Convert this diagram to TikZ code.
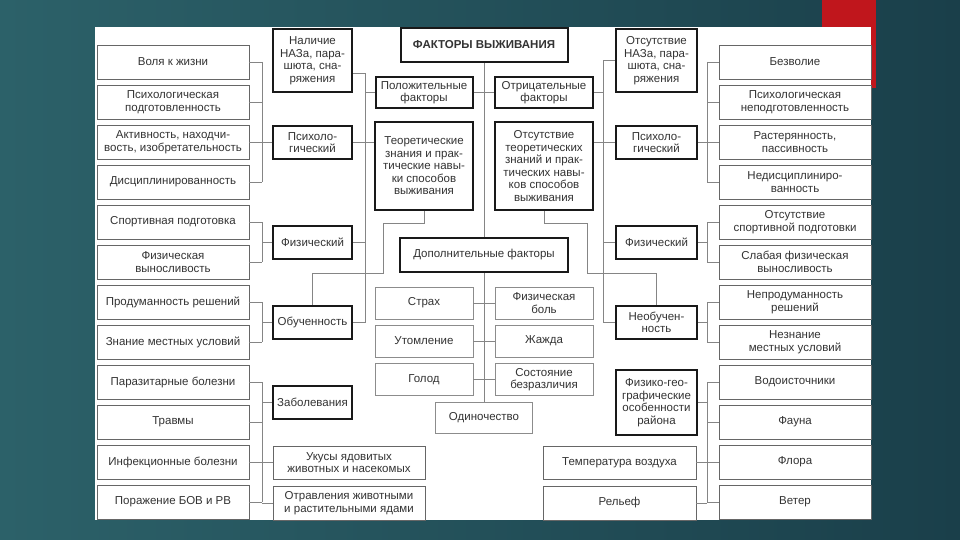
\documentclass[tikz,border=0pt]{standalone}
\usepackage{fontspec}
\setmainfont{Liberation Sans}
\usetikzlibrary{positioning}
\definecolor{bgleft}{HTML}{2C6169}
\definecolor{bgright}{HTML}{1A3F4A}
\definecolor{redbar}{HTML}{C0161C}
\definecolor{wiregray}{HTML}{858585}
\definecolor{ink}{HTML}{333333}

\begin{document}
\begin{tikzpicture}[x=1pt, y=-1pt,
    cell/.style={draw=black!60, line width=0.9pt, fill=white, inner sep=1pt,
      align=center, text=ink, font=\fontsize{11.5}{12.5}\selectfont,
      minimum width=152pt, minimum height=34pt},
    key/.style={cell, draw=black!90, line width=2pt, minimum width=79pt, minimum height=33pt},
    small/.style={cell, draw=black!45, minimum width=98pt, minimum height=32pt},
    wire/.style={draw=wiregray, line width=0.8pt}]
  \useasboundingbox (0,0) rectangle (960,540);
  \shade[left color=bgleft, right color=bgright] (0,0) rectangle (960,540);
  \fill[redbar] (822,0) rectangle (876,88);
  \fill[white] (95,27) rectangle (871,520);

  % outer columns
  \foreach \txt [count=\i] in {Воля к жизни, {Психологическая\\подготовленность},
      {Активность, находчи-\\вость, изобретательность}, Дисциплинированность,
      Спортивная подготовка, {Физическая\\выносливость}, Продуманность решений,
      Знание местных условий, Паразитарные болезни, Травмы, Инфекционные болезни,
      Поражение БОВ и РВ}
    \node[cell] (L\i) at (173,22+40*\i) {\txt};
  \foreach \txt [count=\i] in {Безволие, {Психологическая\\неподготовленность},
      {Растерянность,\\пассивность}, {Недисциплиниро-\\ванность},
      {Отсутствие\\спортивной подготовки}, {Слабая физическая\\выносливость},
      {Непродуманность\\решений}, {Незнание\\местных условий}, Водоисточники,
      Фауна, Флора, Ветер}
    \node[cell] (R\i) at (795,22+40*\i) {\txt};

  % left inner column
  \node[key, minimum height=63pt] (nal) at (312.5,60.5) {Наличие\\НАЗа, пара-\\шюта, сна-\\ряжения};
  \node[key] (psyL) at (312.5,142.5) {Психоло-\\гический};
  \node[key] (fizL) at (312.5,242.5) {Физический};
  \node[key] (obu) at (312.5,322.5) {Обученность};
  \node[key] (zab) at (312.5,402.5) {Заболевания};
  \node[cell, minimum height=33pt] (ukus) at (349,462.5) {Укусы ядовитых\\животных и насекомых};
  \node[cell] (otrav) at (349,503) {Отравления животными\\и растительными ядами};

  % centre
  \node[key, minimum width=167pt, minimum height=34pt] (fv) at (484,45) {\textbf{ФАКТОРЫ ВЫЖИВАНИЯ}};
  \node[key, minimum width=97pt, minimum height=31pt] (pol) at (424,92.5) {Положительные\\факторы};
  \node[key, minimum width=98pt, minimum height=31pt] (otr) at (544,92.5) {Отрицательные\\факторы};
  \node[key, minimum width=98pt, minimum height=88pt] (teor) at (424,166)
    {Теоретические\\знания и прак-\\тические навы-\\ки способов\\выживания};
  \node[key, minimum width=98pt, minimum height=88pt] (oteor) at (544,166)
    {Отсутствие\\теоретических\\знаний и прак-\\тических навы-\\ков способов\\выживания};
  \node[key, minimum width=168pt, minimum height=34pt] (dop) at (484,255) {Дополнительные факторы};
  \foreach \a/\b/\y [count=\i] in {Страх/{Физическая\\боль}/303, Утомление/Жажда/341,
      Голод/{Состояние\\безразличия}/379.5} {
    \node[small] (dl\i) at (424,\y) {\a};
    \node[small] (dr\i) at (544,\y) {\b};
    \draw[wire] (dl\i) -- (dr\i);
  }
  \node[small, minimum width=97pt, minimum height=31pt] (odin) at (484,417.5) {Одиночество};

  % right inner column
  \node[key, minimum width=81pt, minimum height=63pt] (otsnaz) at (656.5,60.5) {Отсутствие\\НАЗа, пара-\\шюта, сна-\\ряжения};
  \node[key, minimum width=81pt] (psyR) at (656.5,142.5) {Психоло-\\гический};
  \node[key, minimum width=81pt] (fizR) at (656.5,242.5) {Физический};
  \node[key, minimum width=81pt] (neobu) at (656.5,322.5) {Необучен-\\ность};
  \node[key, minimum width=81pt, minimum height=65pt] (fgeo) at (656.5,402.5)
    {Физико-гео-\\графические\\особенности\\района};
  \node[cell, minimum width=153pt, minimum height=33pt] (temp) at (619.5,462.5) {Температура воздуха};
  \node[cell, minimum width=153pt] (relef) at (619.5,503) {Рельеф};

  % centre links
  \draw[wire] (fv) -- (dop);
  \draw[wire] (dop) -- (odin);
  \draw[wire] (pol) -- (otr);
  \draw[wire] (teor.south) |- (383,223) |- (312.5,273) -- (obu.north);
  \draw[wire] (oteor.south) |- (587,223) |- (656.5,273) -- (neobu.north);

  % buses
  \coordinate (lbus) at (365,73);
  \coordinate (rbus) at (603,60.5);
  \draw[wire] ([yshift=-12.5pt]nal.east) -- (lbus) |- (obu.east);
  \draw[wire] (pol.west) -- (pol.west -| lbus);
  \draw[wire] (psyL.east) -- (psyL.east -| teor.west);
  \draw[wire] (fizL.east) -- (fizL.east -| lbus);
  \draw[wire] (otsnaz.west) -- (rbus) |- (neobu.west);
  \draw[wire] (otr.east) -- (otr.east -| rbus);
  \draw[wire] (psyR.west) -- (psyR.west -| oteor.east);
  \draw[wire] (fizR.west) -- (fizR.west -| rbus);

  % brackets
  \coordinate (lbr) at (262,0);
  \coordinate (rbr) at (707,0);
  \foreach \i in {1,...,12} {
    \draw[wire] (L\i.east) -- (L\i.east -| lbr);
    \draw[wire] (R\i.west) -- (R\i.west -| rbr);
  }
  \foreach \top/\bot/\grp in {1/4/psyL, 5/6/fizL, 7/8/obu, 9/12/zab} {
    \draw[wire] (L\top.east -| lbr) -- (L\bot.east -| lbr);
    \draw[wire] (\grp.west) -- (\grp.west -| lbr);
  }
  \foreach \top/\bot/\grp in {1/4/psyR, 5/6/fizR, 7/8/neobu, 9/12/fgeo} {
    \draw[wire] (R\top.west -| rbr) -- (R\bot.west -| rbr);
    \draw[wire] (\grp.east) -- (\grp.east -| rbr);
  }
  \draw[wire] (ukus.west) -- (ukus.west -| lbr);
  \draw[wire] (otrav.west) -- (otrav.west -| lbr);
  \draw[wire] (temp.east) -- (temp.east -| rbr);
  \draw[wire] (relef.east) -- (relef.east -| rbr);
\end{tikzpicture}
\end{document}
